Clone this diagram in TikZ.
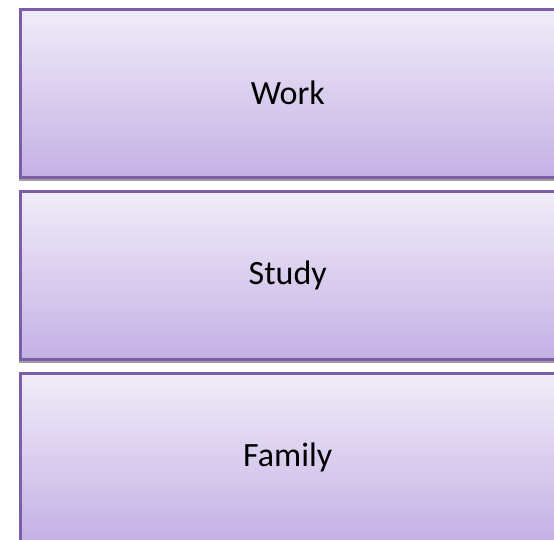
\documentclass[tikz,border=0pt]{standalone}
\usepackage{fontspec}
\setmainfont{Carlito}
\usetikzlibrary{shadows,fadings}
\definecolor{boxborder}{HTML}{7B5EA7}
\definecolor{boxtop}{HTML}{F1ECF9}
\definecolor{boxbot}{HTML}{C4B1E5}
\tikzset{
  itembox/.style={draw=boxborder, line width=2.6pt, top color=boxtop, bottom color=boxbot,
    minimum width=535pt, minimum height=168pt, inner sep=0pt, anchor=north west,
    font=\fontsize{34}{40}\selectfont,
    drop shadow={shadow xshift=-1pt, shadow yshift=-3.5pt, fill=black!55, opacity=0.7}}
}
\begin{document}
\begin{tikzpicture}[x=1pt,y=1pt]
\useasboundingbox (0,0) rectangle (554,-539);
\clip (0,0) rectangle (554,-539);
\node[itembox] (work) at (19,-8) {Work};
\node[itembox] (study) at (19,-190) {Study};
\node[itembox] (family) at (19,-372) {Family};
\end{tikzpicture}
\end{document}
